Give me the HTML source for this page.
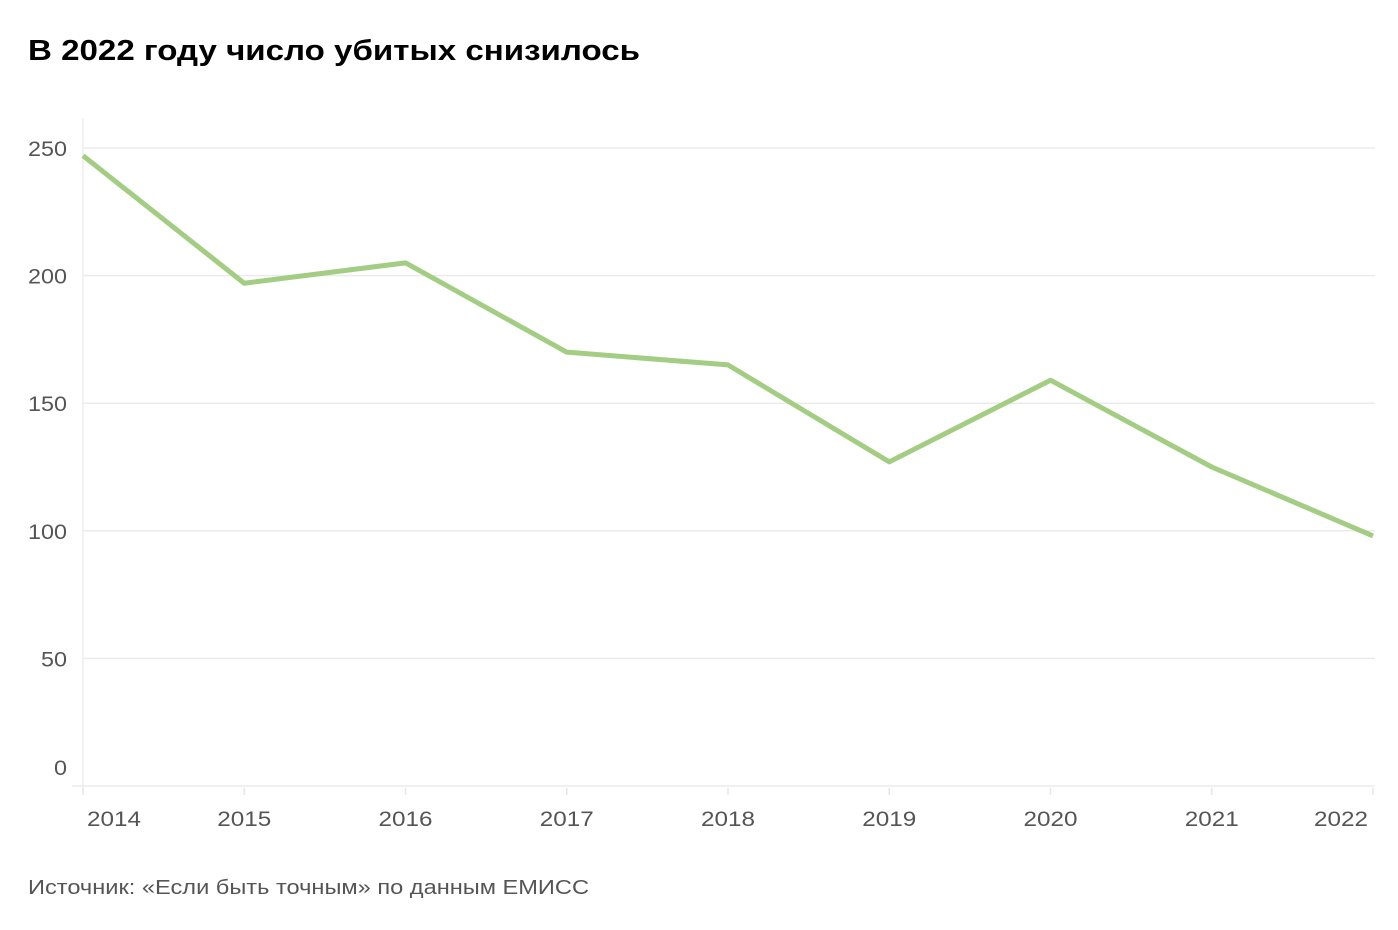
<!DOCTYPE html>
<html><head><meta charset="utf-8"><style>
body{margin:0;background:#fff;font-family:"Liberation Sans","DejaVu Sans",sans-serif;}
#wrap{position:relative;width:1398px;height:930px;overflow:hidden}
</style></head><body><div id="wrap">
<svg id="chart" width="1398" height="930">
<text x="28" y="60" font-size="29" font-weight="bold" fill="#000" textLength="612" lengthAdjust="spacingAndGlyphs">В 2022 году число убитых снизилось</text>
<text x="28" y="894" font-size="20" fill="#555" textLength="561" lengthAdjust="spacingAndGlyphs">Источник: «Если быть точным» по данным ЕМИСС</text>
<g id="grid"></g><g id="xaxis"></g><g id="series"></g>
</svg></div>
<script>
const years=["2014","2015","2016","2017","2018","2019","2020","2021","2022"];
const values=[247,197,205,170,165,127,159,125,98];
const yTicks=[0,50,100,150,200,250];
const NS="http://www.w3.org/2000/svg";
const x0=83,x1=1373,y0=786,yPer=2.552;
function xs(i){return x0+(x1-x0)*i/(years.length-1);}
function ys(v){return y0-v*yPer;}
function mk(tag,attrs,parent){const e=document.createElementNS(NS,tag);for(const k in attrs)e.setAttribute(k,attrs[k]);parent.appendChild(e);return e;}
const grid=document.getElementById('grid'),xa=document.getElementById('xaxis'),se=document.getElementById('series');
mk('line',{x1:x0,x2:x0,y1:118,y2:795,stroke:'#eeeeee','stroke-width':1.5},grid);
yTicks.forEach(v=>{
 const l=mk('line',{x1:v===0?72:x0,x2:1375,y1:ys(v),y2:ys(v),stroke:'#ebebeb','stroke-width':1.5},grid);
 
 
 const s=String(v);
 const t=mk('text',{x:67,y:(v===0?767:ys(v))+8,'text-anchor':'end','font-size':21,fill:'#555',textLength:s.length*13,lengthAdjust:'spacingAndGlyphs'},grid);
 t.textContent=s;
 
 
});
years.forEach((y,i)=>{
 const tk=mk('line',{x1:xs(i),x2:xs(i),y1:788,y2:795,stroke:'#e6e6e6','stroke-width':1.5},xa);
 
 
 let anchor='middle',x=xs(i);
 if(i===0){anchor='start';x=x0+4;} else if(i===years.length-1){anchor='end';x=x1-5;}
 const t=mk('text',{x:x,y:826,'text-anchor':anchor,'font-size':21,fill:'#555',textLength:54,lengthAdjust:'spacingAndGlyphs'},xa);
 t.textContent=y;
 
 
});
const p=mk('polyline',{points:values.map((v,i)=>xs(i)+','+ys(v)).join(' '),fill:'none',stroke:'#a3cd82','stroke-width':5,'stroke-linejoin':'round'},se);


</script></body></html>
